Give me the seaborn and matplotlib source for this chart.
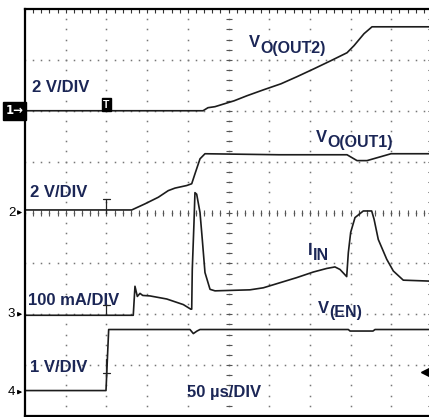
import matplotlib
matplotlib.use('Agg')
import matplotlib.pyplot as plt
import matplotlib.transforms as mtransforms
import numpy as np
import pandas as pd
import seaborn as sns

sns.set_style('white')
plt.rcParams['font.family'] = ['Liberation Sans', 'DejaVu Sans']

## 数据 (time in us, 50 us/div)
t_out2 = [0, 218.7, 224.8, 233.4, 250.6, 256.8, 272.7, 293.6, 314.5, 334.2, 355.0, 375.9, 395.6, 404.2, 416.5, 426.3, 500]
v_out2 = [0, 0, 0.12, 0.16, 0.33, 0.39, 0.59, 0.83, 1.06, 1.34, 1.65, 1.97, 2.28, 2.56, 3.03, 3.30, 3.30]

t_out1 = [0, 131.1, 147.4, 163.8, 176.0, 184.3, 198.6, 204.8, 208.8, 215.0, 221.1, 312.0, 395.6, 407.9, 420.2, 449.7, 500]
v_out1 = [0.1, 0.1, 0.34, 0.60, 0.86, 0.96, 1.06, 1.13, 1.52, 2.11, 2.31, 2.27, 2.27, 2.04, 2.04, 2.31, 2.31]

t_iin = [0, 133.0, 135.1, 138.0, 141.3, 144.6, 153.6, 174.1, 194.5, 203.6,
         204.8, 205.5, 207.6, 208.8, 210.9, 215.0, 217.8, 221.1, 227.3, 233.4,
         276.4, 292.8, 313.3, 333.8, 354.2, 370.6, 380.8, 387.0, 395.2, 397.2,
         400.1, 405.4, 415.6, 425.9, 428.8, 434.0, 444.4, 452.5, 464.7, 500]
i_iin = [-2, -2, 55, 35, 41, 37, 36, 30, 19, 10,
         10, 88, 180, 239, 236, 200, 147, 82, 49, 46,
         48, 52, 62, 72, 83, 90, 93, 88, 74, 121,
         161, 190, 203, 203, 187, 147, 108, 85, 67, 65]

t_en = [0, 99.5, 102.8, 202.7, 206.8, 211.3, 215.0, 397.2, 399.3, 427.5, 430.0, 500]
v_en = [0.03, 0.03, 1.23, 1.23, 1.15, 1.20, 1.23, 1.23, 1.20, 1.20, 1.23, 1.23]

scale_labels = ['2 V/DIV', '2 V/DIV', '100 mA/DIV', '1 V/DIV']
time_label = '50 µs/DIV'
trig_level = 0.4      # V on EN channel
cursor_t = 100        # us

# channel scale (units/div) and screen offset (div)
ch_scale = [2.0, 2.0, 100.0, 1.0]
ch_off = [6.0, 4.0, 2.0, 0.47]

frames = []
for k, (t, v) in enumerate([(t_out2, v_out2), (t_out1, v_out1), (t_iin, i_iin), (t_en, v_en)]):
    frames.append(pd.DataFrame({'t_us': t,
                                'screen_div': ch_off[k] + np.array(v) / ch_scale[k],
                                'channel': k + 1}))
df = pd.concat(frames, ignore_index=True)

## 画图
fig = plt.figure(figsize=(4.29, 4.17), dpi=100)
ax = fig.add_axes([25 / 429, 1 / 417, 407 / 429, 407 / 417])
ax.set_xlim(0, 500)
ax.set_ylim(0, 8)

# dotted graticule
ax.set_xticks(np.arange(0, 501, 50))
ax.set_xticks(np.arange(0, 501, 10), minor=True)
ax.set_yticks(np.arange(0, 8.01, 1))
ax.set_yticks(np.arange(0, 8.01, 0.2), minor=True)
ax.tick_params(which='both', direction='in', length=3, width=0.8, color='#333333',
               top=True, right=True, labelbottom=False, labelleft=False)
for s in ax.spines.values():
    s.set_linewidth(1.6)
    s.set_color('black')

dot_y = np.arange(0, 8.01, 0.2)
dot_x = np.arange(0, 500.1, 10)
for gx in range(50, 500, 50):
    ax.plot(np.full_like(dot_y, gx), dot_y, ls='none', marker='s', ms=1.1, mew=0, color='#777777')
for gy in range(1, 8):
    ax.plot(dot_x, np.full_like(dot_x, gy), ls='none', marker='s', ms=1.1, mew=0, color='#777777')
# centre cross ticks
ax.plot(dot_x, np.full_like(dot_x, 4.0), ls='none', marker='|', ms=5, mew=0.8, color='#555555')
ax.plot(np.full_like(dot_y, 250), dot_y, ls='none', marker='_', ms=5, mew=0.8, color='#555555')

sns.lineplot(data=df, x='t_us', y='screen_div', units='channel', estimator=None, sort=False,
             color='#1c1c1c', linewidth=1.2, ax=ax, legend=False)
ax.set_xlabel('')
ax.set_ylabel('')

txt_c = '#1b2656'
fs = 12
for x, y, s in [(8.6, 6.37, scale_labels[0]), (6.1, 4.30, scale_labels[1]),
                (3.7, 2.18, scale_labels[2]), (6.1, 0.865, scale_labels[3]),
                (199, 0.373, time_label)]:
    ax.text(x, y, s, color=txt_c, fontsize=fs, fontweight='bold', va='baseline')

def sub_label(x, y, main, sub, drop):
    t = ax.text(x, y, main, color=txt_c, fontsize=fs, fontweight='bold', va='baseline')
    ax.annotate(sub, xy=(1, 0), xycoords=t, xytext=(0, -drop), textcoords='offset points',
                color=txt_c, fontsize=11.5, fontweight='bold', va='bottom', ha='left')

sub_label(275, 7.25, 'V', 'O(OUT2)', 4.5)
sub_label(357.5, 5.39, 'V', 'O(OUT1)', 4.0)
sub_label(347.7, 3.165, 'I', 'IN', 3.5)
sub_label(360, 2.025, 'V', '(EN)', 3.0)

# channel markers
blend = mtransforms.blended_transform_factory(ax.transAxes, ax.transData)
ax.text(-0.004, ch_off[0], '1→', transform=blend, ha='right', va='center', color='white',
        fontsize=8.5, fontweight='bold', family='DejaVu Sans',
        bbox=dict(boxstyle='square,pad=0.2', fc='black', ec='black'))
for k in range(1, 4):
    ax.text(-0.033, ch_off[k], str(k + 1), transform=blend, ha='center', va='center',
            color='black', fontsize=9.5)
    ax.annotate('', xy=(0, ch_off[k]), xytext=(-0.02, ch_off[k]), xycoords=blend,
                arrowprops=dict(arrowstyle='-|>', lw=0.8, color='black', mutation_scale=6))

# trigger position marker and cursors
ax.text(cursor_t, ch_off[0] + 0.02, 'T', ha='center', va='bottom', color='white', fontsize=7.5,
        fontweight='bold', bbox=dict(boxstyle='square,pad=0.15', fc='black', ec='black'))
for k, h in [(1, 0.275), (2, 0.18)]:
    ax.plot([cursor_t, cursor_t], [ch_off[k], ch_off[k] + h], color='#222222', lw=0.9)
    ax.plot([cursor_t - 4, cursor_t + 4], [ch_off[k] + h] * 2, color='#222222', lw=0.9)
ax.plot([cursor_t - 4, cursor_t + 4], [ch_off[3] + 0.375] * 2, color='#222222', lw=0.9)
ax.plot([cursor_t, cursor_t], [ch_off[3] + 0.3, ch_off[3] + 0.65], color='#222222', lw=0.9)

# trigger level arrow
ax.plot([491], [ch_off[3] + trig_level / ch_scale[3]], marker='<', ms=6, color='black', ls='none')

fig.savefig('out.png', dpi=100)
plt.close(fig)
